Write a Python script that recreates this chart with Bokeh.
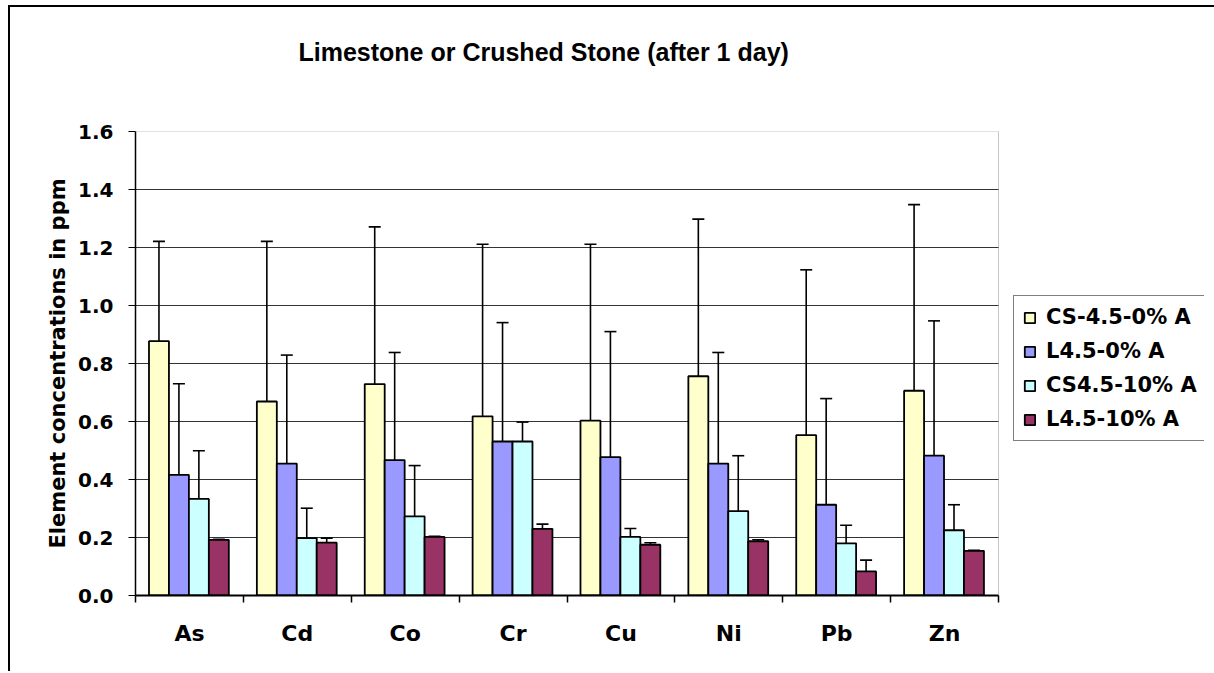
from bokeh.plotting import figure
from bokeh.models import (Range1d, FixedTicker, PrintfTickFormatter, Whisker, TeeHead,
                          ColumnDataSource, Legend, LegendItem, Title, BoxAnnotation)
from bokeh.transform import dodge
from bokeh.embed import file_html
from bokeh.resources import INLINE

categories = ["As", "Cd", "Co", "Cr", "Cu", "Ni", "Pb", "Zn"]
series_names = ["CS-4.5-0% A", "L4.5-0% A", "CS4.5-10% A", "L4.5-10% A"]

cs_0 = [0.877, 0.669, 0.729, 0.618, 0.603, 0.756, 0.553, 0.706]
l_0 = [0.416, 0.455, 0.467, 0.531, 0.477, 0.455, 0.313, 0.482]
cs_10 = [0.333, 0.198, 0.273, 0.531, 0.202, 0.291, 0.180, 0.225]
l_10 = [0.192, 0.182, 0.202, 0.230, 0.175, 0.187, 0.083, 0.154]

cs_0_err = [0.344, 0.552, 0.542, 0.593, 0.608, 0.542, 0.570, 0.642]
l_0_err = [0.314, 0.374, 0.371, 0.410, 0.433, 0.383, 0.366, 0.465]
cs_10_err = [0.166, 0.103, 0.175, 0.067, 0.029, 0.191, 0.062, 0.088]
l_10_err = [0.002, 0.016, 0.002, 0.016, 0.007, 0.005, 0.039, 0.002]

y_ticks = [0.0, 0.2, 0.4, 0.6, 0.8, 1.0, 1.2, 1.4, 1.6]
title_text = "Limestone or Crushed Stone (after 1 day)"
y_label = "Element concentrations in ppm"

colors = ["#FFFFCC", "#9999FF", "#CCFFFF", "#993366"]
means = [cs_0, l_0, cs_10, l_10]
errs = [cs_0_err, l_0_err, cs_10_err, l_10_err]

n = len(categories)
centers = [i + 0.5 for i in range(n)]
bounds = list(range(n + 1))

# layout (pixels): plot area 863 px wide inside a frame that also holds the legend
PLOT_W = 863
FRAME_W = 1069
FRAME_H = 464
x_end = n * FRAME_W / PLOT_W

p = figure(frame_width=FRAME_W, frame_height=FRAME_H, output_backend="svg", toolbar_location=None,
           x_range=Range1d(0, x_end), y_range=Range1d(0, y_ticks[-1]),
           min_border_left=125, min_border_right=10, min_border_top=124, min_border_bottom=76)
p.styles = {"margin-left": "8px", "margin-top": "5px",
            "border-left": "2px solid black", "border-top": "2px solid black"}

p.background_fill_color = "white"
p.border_fill_color = "white"
p.outline_line_color = None

# plot-area frame (bounded by the category span and the top y tick)
p.add_layout(BoxAnnotation(left=0, right=n, bottom=0, top=y_ticks[-1],
                           fill_color=None, line_color="#404040", line_width=1, level="underlay"))

bar_w = 0.185
offsets = [-0.2775 - 0.005, -0.0925 - 0.005, 0.0925 - 0.005, 0.2775 - 0.005]

data = {"x": centers}
for k in range(4):
    data[f"m{k}"] = means[k]
    data[f"u{k}"] = [m + e for m, e in zip(means[k], errs[k])]
src = ColumnDataSource(data)

items = []
for k in range(4):
    r = p.vbar(x=dodge("x", offsets[k]), top=f"m{k}", width=bar_w, source=src,
               fill_color=colors[k], line_color="black", line_width=1.8)
    w = Whisker(base=dodge("x", offsets[k]), lower=f"m{k}", upper=f"u{k}", source=src,
                line_color="black", line_width=1.6,
                upper_head=TeeHead(size=12, line_color="black", line_width=1.6),
                lower_head=None, level="overlay")
    p.add_layout(w)
    items.append(LegendItem(label=series_names[k], renderers=[r]))

# axes
xa = p.xaxis[0]
xa.bounds = (0, n)
xa.ticker = FixedTicker(ticks=centers, minor_ticks=bounds)
xa.major_label_overrides = {c: nm for c, nm in zip(centers, categories)}
xa.major_tick_out = 0
xa.major_tick_in = 0
xa.minor_tick_out = 7
xa.minor_tick_in = 0
xa.minor_tick_line_color = "black"
xa.minor_tick_line_width = 1.5
xa.axis_line_color = "black"
xa.axis_line_width = 2
xa.major_label_text_font = "DejaVu Sans"
xa.major_label_text_font_style = "bold"
xa.major_label_text_font_size = "22px"
xa.major_label_text_color = "black"
xa.major_label_standoff = 18

ya = p.yaxis[0]
ya.ticker = FixedTicker(ticks=y_ticks)
ya.formatter = PrintfTickFormatter(format="%.1f")
ya.major_tick_out = 7
ya.major_tick_in = 0
ya.minor_tick_out = 0
ya.minor_tick_in = 0
ya.major_tick_line_color = "black"
ya.axis_line_color = "black"
ya.axis_line_width = 1.5
ya.major_label_text_font = "DejaVu Sans"
ya.major_label_text_font_style = "bold"
ya.major_label_text_font_size = "20px"
ya.major_label_text_color = "black"
ya.major_label_standoff = 15
ya.axis_label = y_label
ya.axis_label_text_font = "DejaVu Sans"
ya.axis_label_text_font_style = "bold"
ya.axis_label_text_font_size = "21px"
ya.axis_label_text_color = "black"
ya.axis_label_standoff = 5

p.xgrid.grid_line_color = None
p.ygrid.grid_line_color = "#333333"
p.ygrid.grid_line_width = 1
p.ygrid.cross_bounds = (0, n)

# spacer title (closest to frame), then the real title above it
p.add_layout(Title(text=" ", text_font_size="25px", standoff=36), "above")
p.add_layout(Title(text=title_text, align="left", offset=163,
                   text_font="Liberation Sans", text_font_style="bold", text_font_size="25px",
                   text_color="black", standoff=0), "above")

legend = Legend(items=items, location=(878, 154), border_line_color="black", border_line_width=1,
                label_text_font="DejaVu Sans", label_text_font_style="bold",
                label_text_font_size="21px", label_text_color="black",
                glyph_width=13, glyph_height=13, label_standoff=10, padding=9,
                spacing=10, label_height=20, margin=0, background_fill_color="white")
p.add_layout(legend, "center")

open("out.html", "w").write(file_html(p, INLINE))
